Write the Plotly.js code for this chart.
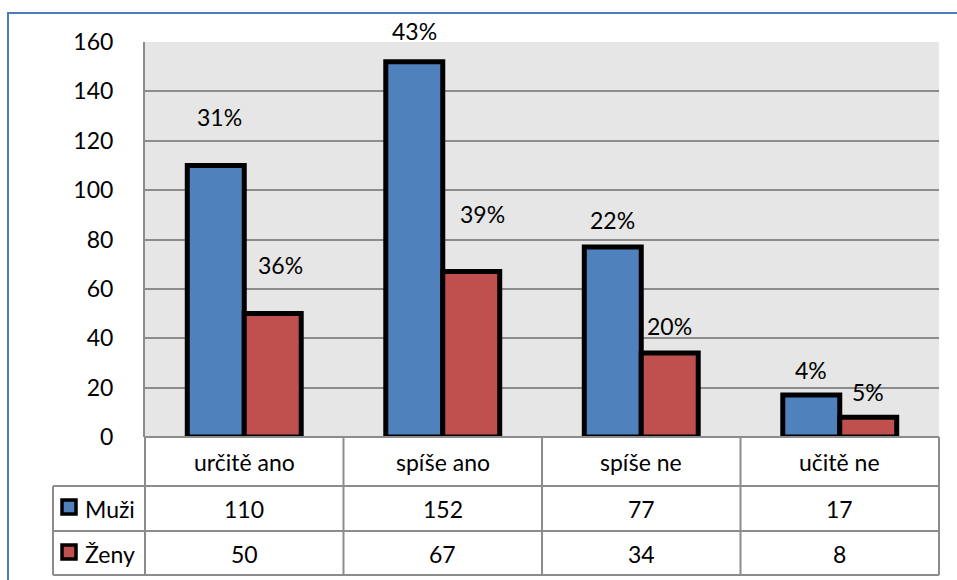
<!DOCTYPE html>
<html>
<head>
<meta charset="utf-8">
<script src="https://cdn.plot.ly/plotly-3.0.1.min.js"></script>
<style>
  html, body { margin: 0; padding: 0; background: #ffffff; }
  #chart { width: 957px; height: 580px; }
</style>
</head>
<body>
<div id="chart"></div>
<script>
// Answer categories and counts per group
const categories = ['určitě ano', 'spíše ano', 'spíše ne', 'učitě ne'];
const seriesNames = ['Muži', 'Ženy'];
const muzi = [110, 152, 77, 17];
const zeny = [50, 67, 34, 8];
const muziPct = ['31%', '43%', '22%', '4%'];
const zenyPct = ['36%', '39%', '20%', '5%'];

// Heights (in axis units) and nudges for the percentage labels
const muziLabelY = [129.6, 164.3, 87.9, 27.1];
const zenyLabelY = [69.6, 90.3, 44.9, 18.2];
const muziLabelDx = [4, 0, 0, 0];
const zenyLabelDx = [8, 11, 0, 0];

const colors = ['#4f81bd', '#c0504d'];
const yMax = 160;
const FONT = 'Lato, "Open Sans", sans-serif';
const FS = 23;
const gridColor = '#8c8c8c';

// Plot area geometry in pixels
const W = 957, H = 580;
const L = 145, R = 939, T = 42, B = 437;
const px = p => (p - L) / (R - L);
const py = p => (B - p) / (B - T);

const barHalfOffset = 0.1435;

const traces = [muzi, zeny].map((vals, k) => ({
  type: 'bar',
  name: seriesNames[k],
  x: categories,
  y: vals,
  marker: { color: colors[k], line: { color: '#000000', width: 5 } },
  hoverinfo: 'none'
}));

const annotations = [];
const txt = (x, y, text, extra) => Object.assign({
  x: x, y: y, text: text, showarrow: false,
  xref: 'paper', yref: 'paper',
  font: { family: FONT, size: FS, color: '#000000' },
  xanchor: 'center', yanchor: 'middle'
}, extra || {});

// Percentage labels above bars
categories.forEach((c, i) => {
  annotations.push(txt(i - barHalfOffset, muziLabelY[i] / yMax, muziPct[i], { xref: 'x', xshift: muziLabelDx[i] }));
  annotations.push(txt(i + barHalfOffset, zenyLabelY[i] / yMax, zenyPct[i], { xref: 'x', xshift: zenyLabelDx[i] }));
});

// Data table below the chart
const rowY = [py(462), py(509), py(554)];
categories.forEach((c, i) => {
  const xc = (i + 0.5) / categories.length;
  annotations.push(txt(xc, rowY[0], c));
  annotations.push(txt(xc, rowY[1], String(muzi[i])));
  annotations.push(txt(xc, rowY[2], String(zeny[i])));
});
seriesNames.forEach((n, k) => {
  annotations.push(txt(px(83), rowY[k + 1], n, { xanchor: 'left' }));
});

const shapes = [];
const line = (x0, y0, x1, y1, color, width) => ({
  type: 'line', xref: 'paper', yref: 'paper',
  x0: x0, y0: y0, x1: x1, y1: y1,
  line: { color: color, width: width }
});

// Table grid
shapes.push(line(0, py(437), 1, py(437), gridColor, 2));
[486, 531, 575].forEach(yy => shapes.push(line(px(53), py(yy), 1, py(yy), gridColor, 2)));
for (let k = 0; k <= categories.length; k++) {
  shapes.push(line(k / categories.length, py(437), k / categories.length, py(575), gridColor, 2));
}
shapes.push(line(px(53), py(486), px(53), py(575), gridColor, 2));

// Legend keys in the table
seriesNames.forEach((n, k) => {
  const cy = k === 0 ? 507 : 552;
  shapes.push({
    type: 'rect', xref: 'paper', yref: 'paper',
    x0: px(62), x1: px(76), y0: py(cy + 7), y1: py(cy - 7),
    fillcolor: colors[k], line: { color: '#000000', width: 3.5 }
  });
});

// Outer frame
shapes.push(line(px(8), py(13), px(8), py(600), '#4a7ebb', 2));
shapes.push(line(px(7), py(13), px(970), py(13), '#4a7ebb', 2));

const layout = {
  width: W, height: H,
  margin: { l: L, r: W - R, t: T, b: H - B, pad: 0 },
  paper_bgcolor: '#ffffff',
  plot_bgcolor: '#e6e6e6',
  showlegend: false,
  barmode: 'group',
  bargap: 0.426,
  bargroupgap: 0,
  font: { family: FONT, size: FS, color: '#000000' },
  xaxis: {
    type: 'category',
    range: [-0.5, 3.5],
    showticklabels: false,
    showgrid: false,
    zeroline: false,
    showline: false,
    ticks: ''
  },
  yaxis: {
    range: [0, yMax],
    dtick: 20,
    tick0: 0,
    showgrid: true,
    gridcolor: gridColor,
    gridwidth: 2,
    zeroline: false,
    showline: true,
    linecolor: gridColor,
    linewidth: 2,
    ticks: '',
    ticklen: 0,
    ticklabelstandoff: 25,
    tickfont: { family: FONT, size: FS, color: '#000000' }
  },
  annotations: annotations,
  shapes: shapes
};

Plotly.newPlot('chart', traces, layout, { staticPlot: true, displayModeBar: false });
</script>
</body>
</html>
